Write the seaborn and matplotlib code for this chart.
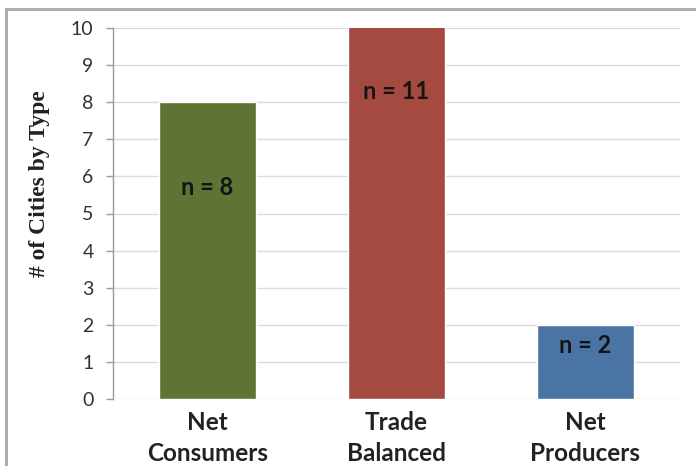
import matplotlib
matplotlib.use("Agg")
import matplotlib.pyplot as plt
from matplotlib.patches import Rectangle
import seaborn as sns
import pandas as pd

# Data
categories = ["Net\nConsumers", "Trade\nBalanced", "Net\nProducers"]
city_counts = [8, 11, 2]
bar_colors = ["#5F7334", "#A54A41", "#4A74A4"]
y_ticks = list(range(0, 11))

# Vertical placement of the "n = ..." annotations (data units)
label_heights = [5.7, 8.3, 1.45]

df = pd.DataFrame({"type": categories, "count": city_counts})

sns.set_theme(style="white")
plt.rcParams["font.family"] = ["Lato", "DejaVu Sans"]

fig = plt.figure(figsize=(6.96, 4.66), dpi=100)
W, H = 696, 466
ax = fig.add_axes([113 / W, 1 - 399 / H, (680 - 113) / W, (399 - 28) / H])

sns.barplot(data=df, x="type", y="count", hue="type", palette=bar_colors,
            width=0.51, legend=False, ax=ax, saturation=1, zorder=3)

ax.set_ylim(0, 10)
ax.set_xlim(-0.5, 2.5)
ax.set_yticks(y_ticks)
ax.yaxis.grid(True, color="#DCDCDC", linewidth=1, zorder=0)
ax.set_axisbelow(True)

for side in ["top", "right", "bottom"]:
    ax.spines[side].set_visible(False)
ax.spines["left"].set_color("#9A9A9A")
ax.spines["left"].set_linewidth(1)

ax.tick_params(axis="y", which="major", left=True, length=5, width=1,
               color="#9A9A9A", labelsize=14, labelcolor="#333333", pad=9)
ax.tick_params(axis="x", which="major", bottom=False, length=0, pad=9)
for lbl in ax.get_xticklabels():
    lbl.set_fontsize(17.5)
    lbl.set_fontweight("bold")
    lbl.set_color("#222222")
    lbl.set_linespacing(1.4)

ax.set_xlabel("")
ax.set_ylabel("")
fig.text(40 / W, 1 - 184 / H, "# of Cities by Type", rotation=90,
         ha="center", va="center", fontsize=17, fontweight="bold",
         family=["Liberation Serif", "DejaVu Serif"], color="#222222")

for i, (n, yl) in enumerate(zip(city_counts, label_heights)):
    ax.text(i, yl, f"n = {n}", ha="center", va="center", fontsize=17,
            fontweight="bold", color="#151515", zorder=5)

# Outer chart frame
fig.patches.append(Rectangle((6 / W, -0.1), 1.2, 1 - 9 / H + 0.1,
                             transform=fig.transFigure, fill=False,
                             edgecolor="#A8A8A8", linewidth=2))

fig.savefig("out.png", dpi=100)
